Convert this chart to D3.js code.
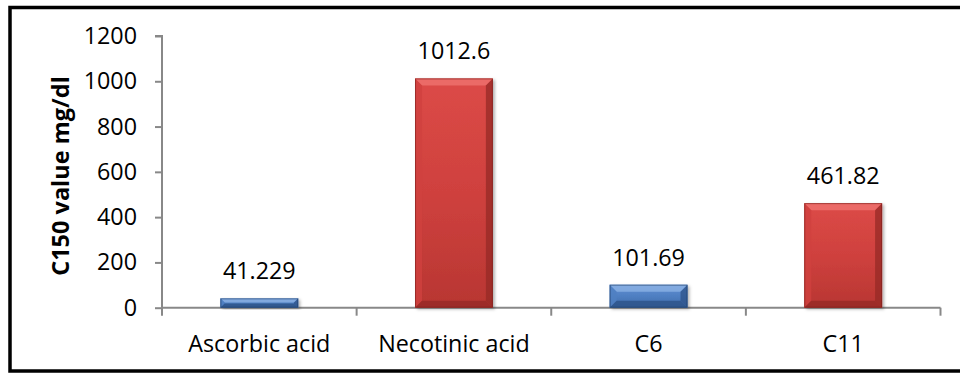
<!DOCTYPE html>
<html>
<head>
<meta charset="utf-8">
<script src="https://cdn.jsdelivr.net/npm/d3@7"></script>
<style>
  html, body { margin: 0; padding: 0; background: #fff; }
  svg { display: block; font-family: "Open Sans", "Liberation Sans", Arial, sans-serif; }
</style>
</head>
<body>
<svg id="chart" width="960" height="374"></svg>
<script>
// Chart data
const categories = ["Ascorbic acid", "Necotinic acid", "C6", "C11"];
const values = [41.229, 1012.6, 101.69, 461.82];
const valueLabels = ["41.229", "1012.6", "101.69", "461.82"];
const seriesColor = ["blue", "red", "blue", "red"];
const yTicks = [0, 200, 400, 600, 800, 1000, 1200];

const FONT = "'Open Sans', 'Liberation Sans', Arial, sans-serif";
const FS = 23.3;

const svg = d3.select("#chart");

// Outer frame (right edge runs off the canvas)
svg.append("rect")
  .attr("x", 10).attr("y", 7.5)
  .attr("width", 960).attr("height", 363.5)
  .attr("fill", "none").attr("stroke", "#000").attr("stroke-width", 3.5);

const plot = { left: 162, right: 940.5, top: 36, bottom: 307.7 };

const x = d3.scaleBand()
  .domain(categories)
  .range([plot.left, plot.right])
  .paddingInner(0.6)
  .paddingOuter(0.3);

const y = d3.scaleLinear().domain([0, 1200]).range([plot.bottom, plot.top]);

// Gradients
const defs = svg.append("defs");
const palettes = {
  blue: { top: "#5f8fd3", mid: "#4f7fc2", bot: "#3f6aa8", light: "#8fb4e6", dark: "#2c5288", edge: "#1f3d68" },
  red:  { top: "#dc4a47", mid: "#cf413e", bot: "#b83632", light: "#f07572", dark: "#962925", edge: "#7a1f1c" }
};
Object.entries(palettes).forEach(([k, p]) => {
  const g = defs.append("linearGradient").attr("id", "grad-" + k)
    .attr("x1", 0).attr("y1", 0).attr("x2", 0).attr("y2", 1);
  g.append("stop").attr("offset", "0%").attr("stop-color", p.top);
  g.append("stop").attr("offset", "50%").attr("stop-color", p.mid);
  g.append("stop").attr("offset", "100%").attr("stop-color", p.bot);
});
const shadow = defs.append("filter").attr("id", "shadow")
  .attr("x", "-20%").attr("y", "-20%").attr("width", "140%").attr("height", "140%");
shadow.append("feDropShadow").attr("dx", 2).attr("dy", 1.5)
  .attr("stdDeviation", 1.5).attr("flood-color", "#000").attr("flood-opacity", 0.3);

// Y axis
const yAxis = d3.axisLeft(y).tickValues(yTicks).tickFormat(d3.format("d"))
  .tickSize(7).tickPadding(18);
const gy = svg.append("g").attr("transform", `translate(${plot.left},0)`).call(yAxis);
gy.select(".domain").attr("stroke", "#888").attr("stroke-width", 2)
  .attr("d", `M-7,${plot.top}H0V${plot.bottom}`);
gy.selectAll(".tick line").attr("stroke", "#888").attr("stroke-width", 2);
gy.selectAll(".tick text").attr("font-size", FS).attr("fill", "#000")
  .attr("font-family", FONT);

// X axis
const xAxis = d3.axisBottom(x).tickSize(0).tickPadding(28);
const gx = svg.append("g").attr("transform", `translate(0,${plot.bottom})`).call(xAxis);
gx.select(".domain").attr("stroke", "#888").attr("stroke-width", 2)
  .attr("d", `M${plot.left},0H${plot.right}`);
gx.selectAll(".tick text").attr("font-size", FS).attr("fill", "#000")
  .attr("font-family", FONT);
// Boundary tick marks between categories
const step = x.step();
const bounds = d3.range(categories.length + 1).map(i => plot.left + i * step);
gx.selectAll(".bound").data(bounds).join("line")
  .attr("x1", d => d).attr("x2", d => d)
  .attr("y1", 0).attr("y2", 8)
  .attr("stroke", "#888").attr("stroke-width", 2);

// Y axis title
svg.append("text")
  .attr("transform", `translate(69,176) rotate(-90)`)
  .attr("text-anchor", "middle")
  .attr("font-size", 23.5).attr("font-weight", "bold")
  .attr("font-family", FONT)
  .text("C150 value mg/dl");

// Bars with bevelled edges
const data = categories.map((c, i) => ({ c, v: values[i], lab: valueLabels[i], col: seriesColor[i] }));
const bars = svg.append("g").selectAll("g").data(data).join("g");

bars.each(function (d) {
  const g = d3.select(this);
  const p = palettes[d.col];
  const x0 = x(d.c), w = x.bandwidth();
  const y0 = y(d.v), h = y(0) - y(d.v);
  const b = Math.min(7, h / 2.2, w / 2);
  g.append("rect").attr("x", x0).attr("y", y0).attr("width", w).attr("height", h)
    .attr("fill", `url(#grad-${d.col})`).attr("filter", "url(#shadow)");
  // top bevel
  g.append("path").attr("d", `M${x0},${y0}H${x0 + w}L${x0 + w - b},${y0 + b}H${x0 + b}Z`)
    .attr("fill", p.light).attr("opacity", 0.75);
  // left bevel
  g.append("path").attr("d", `M${x0},${y0}L${x0 + b},${y0 + b}V${y0 + h - b}L${x0},${y0 + h}Z`)
    .attr("fill", p.mid).attr("opacity", 0.8);
  // right bevel
  g.append("path").attr("d", `M${x0 + w},${y0}L${x0 + w - b},${y0 + b}V${y0 + h - b}L${x0 + w},${y0 + h}Z`)
    .attr("fill", p.dark).attr("opacity", 0.75);
  // bottom bevel
  g.append("path").attr("d", `M${x0},${y0 + h}L${x0 + b},${y0 + h - b}H${x0 + w - b}L${x0 + w},${y0 + h}Z`)
    .attr("fill", p.dark).attr("opacity", 0.8);
  g.append("rect").attr("x", x0 + 0.5).attr("y", y0 + 0.5).attr("width", w - 1).attr("height", h - 1)
    .attr("fill", "none").attr("stroke", p.edge).attr("stroke-width", 1).attr("opacity", 0.6);
  // value label
  g.append("text")
    .attr("x", x0 + w / 2).attr("y", y0 - 19)
    .attr("text-anchor", "middle").attr("font-size", FS).attr("fill", "#000")
    .attr("font-family", FONT)
    .text(d.lab);
});
</script>
</body>
</html>
